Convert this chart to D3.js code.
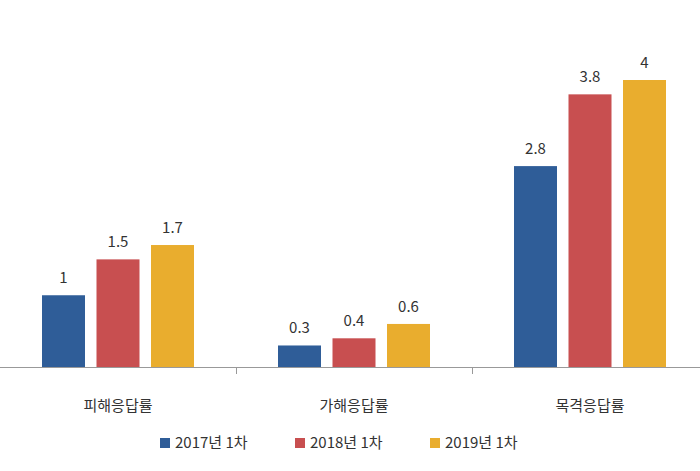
<!DOCTYPE html>
<html><head><meta charset="utf-8">
<script src="https://cdn.jsdelivr.net/npm/d3@7"></script>
<style>body{margin:0;background:#fff}</style></head>
<body><svg id="c" width="700" height="471"></svg>
<script>
const categories = ["피해응답률","가해응답률","목격응답률"];
const seriesNames = ["2017년 1차","2018년 1차","2019년 1차"];
const values2017 = [1, 0.3, 2.8];
const values2018 = [1.5, 0.4, 3.8];
const values2019 = [1.7, 0.6, 4];
const colors = ["#2f5d98","#c84f50","#e9ad2e"];
const series = [values2017, values2018, values2019];
const font = "'Noto Sans CJK KR', 'Noto Sans', sans-serif";

const svg = d3.select("#c");
const x = d3.scaleBand().domain(categories).range([0, 708]);
const y = d3.scaleLinear().domain([0, 4]).range([367, 80]);
const bw = 43, step = 54.5;

categories.forEach((c, ci) => {
  const cx = x(c) + x.bandwidth()/2;
  series.forEach((s, si) => {
    const bx = cx + (si-1)*step - bw/2;
    svg.append("rect").attr("x", bx).attr("y", y(s[ci])).attr("width", bw)
      .attr("height", y(0)-y(s[ci])).attr("fill", colors[si]);
    svg.append("text").attr("x", bx+bw/2).attr("y", y(s[ci])-12)
      .attr("text-anchor","middle").attr("font-family",font).attr("font-size",15)
      .attr("fill","#333").text(s[ci]);
  });
  svg.append("text").attr("x", cx).attr("y", 411).attr("text-anchor","middle")
    .attr("font-family",font).attr("font-size",15).attr("fill","#333").text(c);
});
svg.append("line").attr("x1",0).attr("x2",700).attr("y1",367.5).attr("y2",367.5).attr("stroke","#999");
[236,472].forEach(t=>svg.append("line").attr("x1",t+0.5).attr("x2",t+0.5).attr("y1",367).attr("y2",374).attr("stroke","#999"));

const legX = [160, 295, 430];
seriesNames.forEach((n,i)=>{
  svg.append("rect").attr("x",legX[i]).attr("y",438).attr("width",10).attr("height",10).attr("fill",colors[i]);
  svg.append("text").attr("x",legX[i]+15).attr("y",448).attr("font-family",font).attr("font-size",15)
    .attr("fill","#333").text(n);
});
</script></body></html>
